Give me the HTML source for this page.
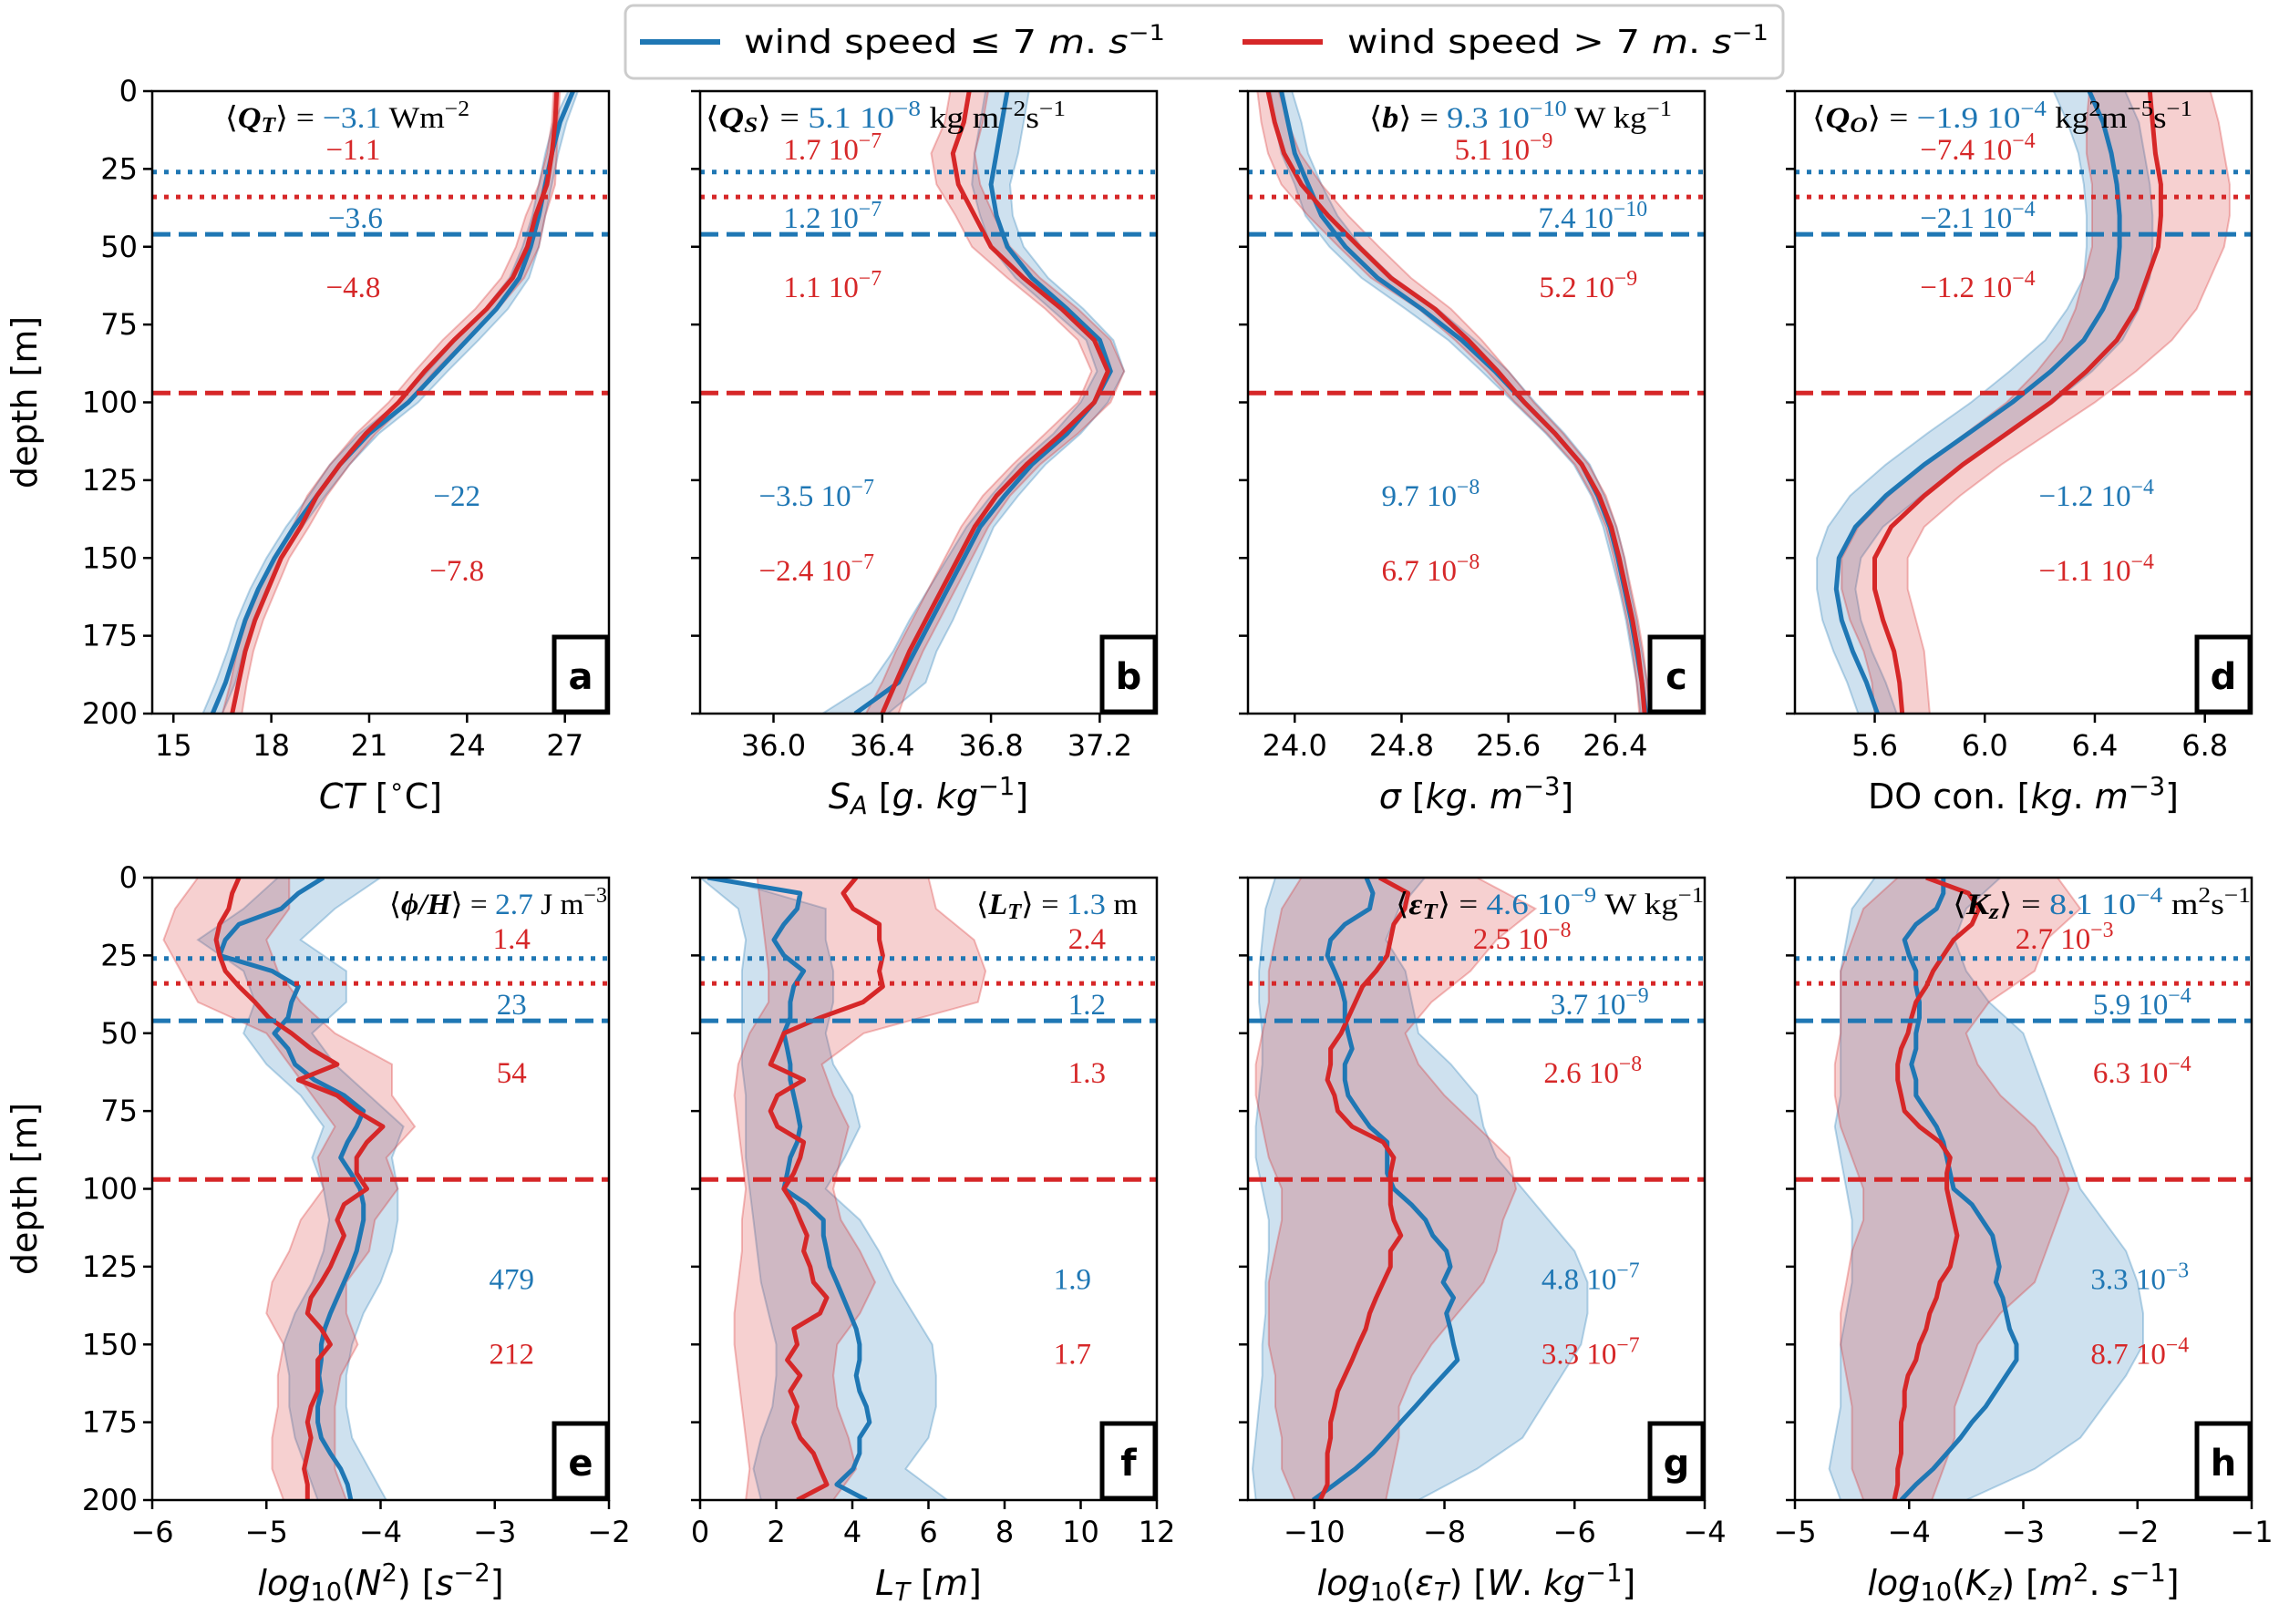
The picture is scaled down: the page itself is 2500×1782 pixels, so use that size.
<!DOCTYPE html>
<html>
<head>
<meta charset="utf-8">
<style>
html,body{margin:0;padding:0;background:#fff;}
svg{display:block;}
.tick{font-family:"DejaVu Sans","Liberation Sans",sans-serif;font-size:32px;fill:#000;}
.axl{font-family:"DejaVu Sans","Liberation Sans",sans-serif;font-size:38px;fill:#000;}
.ann{font-family:"Liberation Serif","DejaVu Serif",serif;font-size:33px;}
.leg{font-family:"DejaVu Sans","Liberation Sans",sans-serif;font-size:36px;fill:#000;}
</style>
</head>
<body>
<svg id="fig" width="2500" height="1782" viewBox="0 0 2500 1782" xmlns="http://www.w3.org/2000/svg">
  <g>
    <rect x="686" y="6" width="1270" height="80" rx="9" fill="#fff" stroke="#cccccc" stroke-width="3"/>
    <line x1="702" y1="46" x2="790" y2="46" stroke="#1f77b4" stroke-width="6"/>
    <text class="leg" x="816" y="58" textLength="462" lengthAdjust="spacingAndGlyphs">wind speed ≤ 7 <tspan font-style="italic">m</tspan>. <tspan font-style="italic">s</tspan><tspan baseline-shift="super" font-size="24">−1</tspan></text>
    <line x1="1363" y1="46" x2="1451" y2="46" stroke="#d62728" stroke-width="6"/>
    <text class="leg" x="1478" y="58" textLength="462" lengthAdjust="spacingAndGlyphs">wind speed &gt; 7 <tspan font-style="italic">m</tspan>. <tspan font-style="italic">s</tspan><tspan baseline-shift="super" font-size="24">−1</tspan></text>
  </g>
</svg>
<script>
// ---------- data ----------
const depth10 = [0,10,20,30,40,50,60,70,80,90,100,110,120,130,140,150,160,170,180,190,200];
const depth5 = [0,5,10,15,20,25,30,35,40,45,50,55,60,65,70,75,80,85,90,95,100,105,110,115,120,125,130,135,140,145,150,155,160,165,170,175,180,185,190,195,200];
const mldDepths = [26, 34, 46, 97]; // blue dotted, red dotted, blue dashed, red dashed

// a: CT
const ctBlue = [27.25,26.85,26.6,26.4,26.2,25.95,25.6,24.9,24.0,23.1,22.2,21.0,20.1,19.4,18.7,18.1,17.6,17.2,16.9,16.6,16.2];
const ctRed = [26.75,26.7,26.6,26.45,26.1,25.85,25.4,24.6,23.6,22.7,21.9,20.9,20.1,19.4,18.9,18.3,17.9,17.5,17.2,17.0,16.8];
const ctBlueSpread = [0.15,0.2,0.2,0.2,0.2,0.25,0.3,0.35,0.35,0.3,0.3,0.3,0.3,0.25,0.25,0.25,0.25,0.25,0.25,0.3,0.3];
const ctRedSpread = [0.1,0.1,0.15,0.25,0.3,0.35,0.35,0.35,0.35,0.3,0.3,0.3,0.3,0.3,0.25,0.25,0.25,0.25,0.25,0.25,0.3];
// b: SA
const saBlue = [36.86,36.84,36.82,36.8,36.82,36.86,36.95,37.08,37.2,37.24,37.18,37.08,36.95,36.85,36.76,36.7,36.64,36.58,36.52,36.46,36.3];
const saRed = [36.72,36.7,36.66,36.68,36.74,36.8,36.92,37.06,37.18,37.23,37.18,37.06,36.93,36.82,36.74,36.68,36.62,36.56,36.5,36.45,36.4];
const saBlueSpread = [0.08,0.08,0.08,0.07,0.06,0.06,0.06,0.06,0.05,0.05,0.05,0.05,0.05,0.05,0.05,0.06,0.07,0.08,0.08,0.1,0.12];
const saRedSpread = [0.07,0.07,0.08,0.08,0.07,0.07,0.06,0.06,0.06,0.06,0.06,0.06,0.05,0.05,0.05,0.05,0.05,0.05,0.05,0.05,0.06];
// c: sigma
const sigBlue = [23.9,23.95,24.0,24.1,24.2,24.38,24.62,24.95,25.25,25.5,25.72,25.95,26.15,26.27,26.36,26.42,26.47,26.52,26.56,26.6,26.63];
const sigRed = [23.8,23.85,23.92,24.05,24.25,24.48,24.72,25.05,25.3,25.52,25.72,25.95,26.15,26.28,26.37,26.43,26.48,26.53,26.57,26.6,26.62];
const sigBlueSpread = [0.08,0.1,0.1,0.1,0.12,0.12,0.12,0.12,0.1,0.1,0.08,0.07,0.06,0.05,0.05,0.05,0.04,0.04,0.04,0.04,0.04];
const sigRedSpread = [0.08,0.1,0.12,0.15,0.15,0.15,0.15,0.12,0.1,0.08,0.07,0.06,0.05,0.05,0.04,0.04,0.04,0.04,0.04,0.04,0.04];
// d: DO
const doBlue = [6.38,6.43,6.46,6.48,6.49,6.49,6.48,6.43,6.36,6.24,6.1,5.94,5.78,5.64,5.53,5.47,5.46,5.48,5.52,5.57,5.61];
const doRed = [6.6,6.61,6.62,6.64,6.64,6.63,6.59,6.55,6.48,6.37,6.24,6.08,5.92,5.78,5.66,5.6,5.6,5.63,5.67,5.69,5.7];
const doBlueSpread = [0.13,0.13,0.12,0.12,0.12,0.12,0.12,0.13,0.14,0.15,0.15,0.15,0.14,0.13,0.1,0.08,0.07,0.07,0.07,0.07,0.07];
const doRedSpread = [0.22,0.24,0.25,0.25,0.25,0.24,0.23,0.22,0.2,0.18,0.16,0.15,0.14,0.13,0.12,0.12,0.12,0.12,0.11,0.1,0.1];
// e: log10 N2
const n2Blue = [-4.5,-4.72,-4.87,-5.24,-5.36,-5.41,-4.95,-4.72,-4.78,-4.81,-4.93,-4.81,-4.75,-4.58,-4.32,-4.15,-4.21,-4.29,-4.35,-4.26,-4.18,-4.15,-4.15,-4.18,-4.21,-4.26,-4.32,-4.38,-4.44,-4.49,-4.52,-4.52,-4.54,-4.52,-4.55,-4.55,-4.52,-4.44,-4.35,-4.29,-4.26];
const n2Red = [-5.24,-5.3,-5.33,-5.41,-5.44,-5.41,-5.36,-5.24,-5.1,-4.98,-4.78,-4.61,-4.38,-4.72,-4.38,-4.21,-3.98,-4.12,-4.21,-4.21,-4.12,-4.32,-4.38,-4.32,-4.38,-4.44,-4.52,-4.61,-4.64,-4.52,-4.44,-4.55,-4.55,-4.55,-4.61,-4.64,-4.61,-4.64,-4.67,-4.64,-4.64];
const n2BlueLo = [-4.9,-5.2,-5.6,-5.2,-5.1,-5.2,-5.0,-4.7,-4.5,-4.6,-4.5,-4.45,-4.5,-4.6,-4.75,-4.85,-4.8,-4.8,-4.75,-4.65,-4.55];
const n2BlueHi = [-4.0,-4.4,-4.7,-4.3,-4.3,-4.6,-4.4,-4.1,-3.8,-3.9,-3.85,-3.85,-3.9,-4.0,-4.15,-4.25,-4.3,-4.3,-4.25,-4.1,-3.95];
const n2RedLo = [-5.6,-5.8,-5.9,-5.75,-5.6,-5.0,-4.8,-4.6,-4.4,-4.55,-4.5,-4.7,-4.8,-4.95,-5.0,-4.85,-4.9,-4.9,-4.95,-4.95,-4.85];
const n2RedHi = [-4.8,-4.8,-5.0,-4.9,-4.7,-4.4,-3.9,-3.9,-3.7,-3.95,-3.85,-4.05,-4.1,-4.3,-4.3,-4.2,-4.35,-4.4,-4.4,-4.4,-4.3];
// f: LT
const ltBlue = [0.2,2.63,2.55,2.2,1.94,2.2,2.72,2.46,2.37,2.37,2.2,2.29,2.37,2.37,2.46,2.55,2.63,2.55,2.37,2.29,2.2,2.81,3.24,3.24,3.33,3.41,3.59,3.76,3.93,4.1,4.19,4.19,4.1,4.19,4.37,4.45,4.19,4.19,4.02,3.59,4.37];
const ltRed = [4.1,3.76,4.02,4.71,4.71,4.8,4.71,4.8,4.28,3.15,2.2,2.03,1.85,2.72,2.03,1.85,2.03,2.72,2.63,2.46,2.2,2.46,2.63,2.81,2.72,2.89,2.98,3.33,3.15,2.46,2.55,2.29,2.63,2.37,2.55,2.46,2.63,2.98,3.15,3.33,2.55];
const ltBlueLo = [0,1.0,1.2,1.1,1.1,1.1,1.1,1.2,1.2,1.2,1.3,1.4,1.5,1.6,1.8,2.0,2.0,1.9,1.6,1.4,1.6];
const ltBlueHi = [0.5,3.3,3.3,3.5,3.5,3.3,3.5,4.0,4.2,3.8,3.3,4.2,4.7,5.1,5.6,6.1,6.2,6.2,6.0,5.4,6.5];
const ltRedLo = [1.5,1.6,1.7,1.8,1.8,1.3,1.0,0.9,1.0,1.1,1.2,1.1,1.1,1.0,0.9,0.9,1.0,1.1,1.2,1.3,1.2];
const ltRedHi = [6.0,6.2,7.2,7.5,7.3,4.3,3.2,3.5,3.9,3.7,3.5,3.7,4.2,4.6,4.2,3.6,3.5,3.6,3.9,4.1,3.5];
// g: log10 eps
const epsBlue = [-9.2,-9.1,-9.15,-9.53,-9.75,-9.8,-9.69,-9.59,-9.53,-9.53,-9.48,-9.42,-9.53,-9.53,-9.48,-9.32,-9.15,-8.88,-8.88,-8.88,-8.78,-8.51,-8.29,-8.18,-7.97,-7.91,-8.02,-7.86,-7.97,-7.91,-7.86,-7.8,-8.02,-8.24,-8.45,-8.67,-8.88,-9.1,-9.37,-9.69,-10.02];
const epsRed = [-9.0,-8.56,-8.61,-8.78,-8.83,-8.88,-9.05,-9.26,-9.37,-9.48,-9.59,-9.75,-9.75,-9.8,-9.69,-9.64,-9.42,-8.94,-8.78,-8.83,-8.83,-8.83,-8.78,-8.67,-8.83,-8.83,-8.94,-9.05,-9.15,-9.21,-9.32,-9.42,-9.53,-9.64,-9.69,-9.75,-9.75,-9.8,-9.8,-9.8,-9.91];
const epsBlueLo = [-10.6,-10.75,-10.8,-10.85,-10.85,-10.8,-10.8,-10.85,-10.9,-10.9,-10.8,-10.7,-10.7,-10.75,-10.75,-10.8,-10.8,-10.85,-10.9,-10.95,-10.9];
const epsBlueHi = [-8.3,-8.7,-8.9,-8.6,-8.5,-8.4,-7.9,-7.5,-7.4,-7.2,-6.8,-6.4,-6.0,-5.8,-5.8,-5.9,-6.2,-6.5,-6.8,-7.5,-8.4];
const epsRedLo = [-10.2,-10.5,-10.6,-10.7,-10.7,-10.8,-10.9,-10.9,-10.8,-10.7,-10.5,-10.5,-10.6,-10.7,-10.7,-10.7,-10.6,-10.6,-10.5,-10.5,-10.3];
const epsRedHi = [-7.5,-6.6,-7.2,-7.6,-8.2,-8.6,-8.4,-8.0,-7.5,-7.0,-6.9,-7.1,-7.2,-7.4,-7.8,-8.2,-8.5,-8.7,-8.7,-8.8,-8.9];
// h: log10 Kz
const kzBlue = [-3.7,-3.7,-3.76,-3.94,-4.04,-4.0,-3.94,-3.94,-3.91,-3.91,-3.94,-3.94,-3.98,-3.94,-3.94,-3.85,-3.76,-3.7,-3.67,-3.64,-3.61,-3.45,-3.36,-3.27,-3.24,-3.21,-3.24,-3.18,-3.15,-3.12,-3.06,-3.06,-3.15,-3.24,-3.33,-3.45,-3.55,-3.67,-3.79,-3.94,-4.07];
const kzRed = [-3.85,-3.48,-3.39,-3.45,-3.61,-3.7,-3.79,-3.85,-3.94,-3.98,-4.01,-4.07,-4.1,-4.1,-4.07,-4.04,-3.91,-3.73,-3.64,-3.67,-3.67,-3.64,-3.61,-3.58,-3.61,-3.64,-3.73,-3.76,-3.82,-3.85,-3.91,-3.94,-4.01,-4.04,-4.04,-4.07,-4.07,-4.07,-4.1,-4.1,-4.13];
const kzBlueLo = [-4.3,-4.5,-4.55,-4.6,-4.6,-4.6,-4.6,-4.6,-4.65,-4.6,-4.55,-4.5,-4.5,-4.5,-4.55,-4.6,-4.6,-4.6,-4.65,-4.7,-4.6];
const kzBlueHi = [-3.2,-3.5,-3.6,-3.5,-3.3,-3.0,-2.9,-2.8,-2.7,-2.6,-2.5,-2.3,-2.1,-2.0,-1.95,-1.95,-2.1,-2.3,-2.5,-2.9,-3.5];
const kzRedLo = [-4.1,-4.4,-4.5,-4.6,-4.6,-4.6,-4.65,-4.65,-4.6,-4.5,-4.4,-4.4,-4.5,-4.55,-4.6,-4.6,-4.55,-4.5,-4.5,-4.5,-4.4];
const kzRedHi = [-2.7,-2.5,-2.8,-2.9,-3.3,-3.5,-3.4,-3.2,-2.9,-2.7,-2.6,-2.7,-2.8,-2.9,-3.2,-3.4,-3.5,-3.6,-3.6,-3.7,-3.8];

// tick labels
const ticksA = [15,18,21,24,27];
const ticksB = [36.0,36.4,36.8,37.2];
const ticksC = [24.0,24.8,25.6,26.4];
const ticksD = [5.6,6.0,6.4,6.8];
const ticksE = [-6,-5,-4,-3,-2];
const ticksF = [0,2,4,6,8,10,12];
const ticksG = [-10,-8,-6,-4];
const ticksH = [-5,-4,-3,-2,-1];
const depthTicks = [0,25,50,75,100,125,150,175,200];

// ---------- drawing ----------
const NS = 'http://www.w3.org/2000/svg';
const svg = document.getElementById('fig');
const BLUE = '#1f77b4', RED = '#d62728';
const COLX = [167, 768, 1369, 1969];
const ROWY = [100, 963];
const W = 501, H = 683;

function el(tag, attrs, parent) {
  const e = document.createElementNS(NS, tag);
  for (const k in attrs) e.setAttribute(k, attrs[k]);
  if (parent) parent.appendChild(e);
  return e;
}
function sup(s){ return '<tspan baseline-shift="super" font-size="72%">' + s + '</tspan>'; }
function sub(s){ return '<tspan baseline-shift="-0.22em" font-size="72%">' + s + '</tspan>'; }
function fmtNum(v, dec){ return (v < 0 ? '\u2212' : '') + Math.abs(v).toFixed(dec); }

const panels = [
  {id:'a', col:0,row:0, xmin:14.35, xmax:28.35, ticks:ticksA, dec:0, mean:[ctBlue,ctRed], spread:[ctBlueSpread,ctRedSpread], d:depth10,
   xlabel:'<tspan font-style="italic">CT</tspan> [' + sup('\u2218') + 'C]',
   title:{x:247, len:268, html:'\u27E8<tspan font-weight="bold" font-style="italic">Q</tspan>' + sub('<tspan font-weight="bold" font-style="italic">T</tspan>') + '\u27E9 = <tspan fill="'+BLUE+'">\u22123.1</tspan> Wm' + sup('\u22122')},
   ann:[[0.44,18.7,'r','\u22121.1'],[0.445,40.7,'b','\u22123.6'],[0.44,63,'r','\u22124.8'],[0.667,130,'b','\u221222'],[0.667,154,'r','\u22127.8']]},
  {id:'b', col:1,row:0, xmin:35.73, xmax:37.41, ticks:ticksB, dec:1, mean:[saBlue,saRed], spread:[saBlueSpread,saRedSpread], d:depth10,
   xlabel:'<tspan font-style="italic">S</tspan>' + sub('<tspan font-style="italic">A</tspan>') + ' [<tspan font-style="italic">g</tspan>. <tspan font-style="italic">kg</tspan>' + sup('\u22121') + ']',
   title:{x:774, len:395, html:'\u27E8<tspan font-weight="bold" font-style="italic">Q</tspan>' + sub('<tspan font-weight="bold" font-style="italic">S</tspan>') + '\u27E9 = <tspan fill="'+BLUE+'">5.1 10' + sup('\u22128') + '</tspan> kg m' + sup('\u22122') + 's' + sup('\u22121')},
   ann:[[0.29,18.7,'r','1.7 10'+sup('\u22127')],[0.29,40.7,'b','1.2 10'+sup('\u22127')],[0.29,63,'r','1.1 10'+sup('\u22127')],[0.255,130,'b','\u22123.5 10'+sup('\u22127')],[0.255,154,'r','\u22122.4 10'+sup('\u22127')]]},
  {id:'c', col:2,row:0, xmin:23.65, xmax:27.07, ticks:ticksC, dec:1, mean:[sigBlue,sigRed], spread:[sigBlueSpread,sigRedSpread], d:depth10,
   xlabel:'<tspan font-style="italic">\u03C3</tspan> [<tspan font-style="italic">kg</tspan>. <tspan font-style="italic">m</tspan>' + sup('\u22123') + ']',
   title:{x:1502, len:332, html:'\u27E8<tspan font-weight="bold" font-style="italic">b</tspan>\u27E9 = <tspan fill="'+BLUE+'">9.3 10' + sup('\u221210') + '</tspan> W kg' + sup('\u22121')},
   ann:[[0.56,18.7,'r','5.1 10'+sup('\u22129')],[0.755,40.7,'b','7.4 10'+sup('\u221210')],[0.745,63,'r','5.2 10'+sup('\u22129')],[0.4,130,'b','9.7 10'+sup('\u22128')],[0.4,154,'r','6.7 10'+sup('\u22128')]]},
  {id:'d', col:3,row:0, xmin:5.31, xmax:6.97, ticks:ticksD, dec:1, mean:[doBlue,doRed], spread:[doBlueSpread,doRedSpread], d:depth10,
   xlabel:'DO con. [<tspan font-style="italic">kg</tspan>. <tspan font-style="italic">m</tspan>' + sup('\u22123') + ']',
   title:{x:1988, len:417, html:'\u27E8<tspan font-weight="bold" font-style="italic">Q</tspan>' + sub('<tspan font-weight="bold" font-style="italic">O</tspan>') + '\u27E9 = <tspan fill="'+BLUE+'">\u22121.9 10' + sup('\u22124') + '</tspan> kg' + sup('2') + 'm' + sup('\u22125') + 's' + sup('\u22121')},
   ann:[[0.40,18.7,'r','\u22127.4 10'+sup('\u22124')],[0.40,40.7,'b','\u22122.1 10'+sup('\u22124')],[0.40,63,'r','\u22121.2 10'+sup('\u22124')],[0.66,130,'b','\u22121.2 10'+sup('\u22124')],[0.66,154,'r','\u22121.1 10'+sup('\u22124')]]},
  {id:'e', col:0,row:1, xmin:-6, xmax:-2, ticks:ticksE, dec:0, mean:[n2Blue,n2Red], lo:[n2BlueLo,n2RedLo], hi:[n2BlueHi,n2RedHi], d:depth5,
   xlabel:'<tspan font-style="italic">log</tspan>' + sub('10') + '(<tspan font-style="italic">N</tspan>' + sup('2') + ') [<tspan font-style="italic">s</tspan>' + sup('\u22122') + ']',
   title:{x:427, len:239, html:'\u27E8<tspan font-weight="bold" font-style="italic">\u03D5/H</tspan>\u27E9 = <tspan fill="'+BLUE+'">2.7</tspan> J m' + sup('\u22123')},
   ann:[[0.787,19.6,'r','1.4'],[0.787,40.7,'b','23'],[0.787,62.6,'r','54'],[0.787,129,'b','479'],[0.787,153,'r','212']]},
  {id:'f', col:1,row:1, xmin:0, xmax:12, ticks:ticksF, dec:0, mean:[ltBlue,ltRed], lo:[ltBlueLo,ltRedLo], hi:[ltBlueHi,ltRedHi], d:depth5,
   xlabel:'<tspan font-style="italic">L</tspan>' + sub('<tspan font-style="italic">T</tspan>') + ' [<tspan font-style="italic">m</tspan>]',
   title:{x:1071, len:177, html:'\u27E8<tspan font-weight="bold" font-style="italic">L</tspan>' + sub('<tspan font-weight="bold" font-style="italic">T</tspan>') + '\u27E9 = <tspan fill="'+BLUE+'">1.3</tspan> m'},
   ann:[[0.847,19.6,'r','2.4'],[0.847,40.7,'b','1.2'],[0.847,62.6,'r','1.3'],[0.815,129,'b','1.9'],[0.815,153,'r','1.7']]},
  {id:'g', col:2,row:1, xmin:-11.02, xmax:-4, ticks:ticksG, dec:0, mean:[epsBlue,epsRed], lo:[epsBlueLo,epsRedLo], hi:[epsBlueHi,epsRedHi], d:depth5,
   xlabel:'<tspan font-style="italic">log</tspan>' + sub('10') + '(<tspan font-style="italic">\u03B5</tspan>' + sub('<tspan font-style="italic">T</tspan>') + ') [<tspan font-style="italic">W</tspan>. <tspan font-style="italic">kg</tspan>' + sup('\u22121') + ']',
   title:{x:1531, len:338, html:'\u27E8<tspan font-weight="bold" font-style="italic">\u03B5</tspan>' + sub('<tspan font-weight="bold" font-style="italic">T</tspan>') + '\u27E9 =  <tspan fill="'+BLUE+'">4.6 10' + sup('\u22129') + '</tspan> W kg' + sup('\u22121')},
   ann:[[0.6,19.6,'r','2.5 10'+sup('\u22128')],[0.77,40.7,'b','3.7 10'+sup('\u22129')],[0.755,62.6,'r','2.6 10'+sup('\u22128')],[0.75,129,'b','4.8 10'+sup('\u22127')],[0.75,153,'r','3.3 10'+sup('\u22127')]]},
  {id:'h', col:3,row:1, xmin:-5, xmax:-1, ticks:ticksH, dec:0, mean:[kzBlue,kzRed], lo:[kzBlueLo,kzRedLo], hi:[kzBlueHi,kzRedHi], d:depth5,
   xlabel:'<tspan font-style="italic">log</tspan>' + sub('10') + '(<tspan font-style="italic">K</tspan>' + sub('<tspan font-style="italic">z</tspan>') + ') [<tspan font-style="italic">m</tspan>' + sup('2') + '. <tspan font-style="italic">s</tspan>' + sup('\u22121') + ']',
   title:{x:2142, len:327, html:'\u27E8<tspan font-weight="bold" font-style="italic">K</tspan>' + sub('<tspan font-weight="bold" font-style="italic">z</tspan>') + '\u27E9 =  <tspan fill="'+BLUE+'">8.1 10' + sup('\u22124') + '</tspan> m' + sup('2') + 's' + sup('\u22121')},
   ann:[[0.59,19.6,'r','2.7 10'+sup('\u22123')],[0.76,40.7,'b','5.9 10'+sup('\u22124')],[0.76,62.6,'r','6.3 10'+sup('\u22124')],[0.755,129,'b','3.3 10'+sup('\u22123')],[0.755,153,'r','8.7 10'+sup('\u22124')]]}
];

const defs = el('defs', {}, svg);

panels.forEach(p => {
  const x0 = COLX[p.col], y0 = ROWY[p.row];
  const X = v => x0 + (v - p.xmin) / (p.xmax - p.xmin) * W;
  const Y = d => y0 + d / 200 * H;
  const g = el('g', {}, svg);
  
  

  const cp = el('clipPath', {id: 'clip-' + p.id}, defs);
  el('rect', {x: x0, y: y0, width: W, height: H}, cp);
  const plot = el('g', {'clip-path': 'url(#clip-' + p.id + ')'}, g);
  
  

  const cols = [BLUE, RED], names = ['low-wind', 'high-wind'];
  for (let s = 0; s < 2; s++) {
    let lo, hi, dd;
    if (p.spread) {
      dd = p.d;
      lo = p.mean[s].map((m, i) => m - p.spread[s][i]);
      hi = p.mean[s].map((m, i) => m + p.spread[s][i]);
    } else {
      dd = depth10; lo = p.lo[s]; hi = p.hi[s];
    }
    const pts = [];
    for (let i = 0; i < dd.length; i++) pts.push(X(lo[i]).toFixed(1) + ',' + Y(dd[i]).toFixed(1));
    for (let i = dd.length - 1; i >= 0; i--) pts.push(X(hi[i]).toFixed(1) + ',' + Y(dd[i]).toFixed(1));
    const band = el('polygon', {points: pts.join(' '), fill: cols[s], 'fill-opacity': 0.22, stroke: cols[s], 'stroke-opacity': 0.3, 'stroke-width': 2}, plot);
    
    
  }
  for (let s = 0; s < 2; s++) {
    const pts = p.mean[s].map((v, i) => X(v).toFixed(1) + ',' + Y(p.d[i]).toFixed(1)).join(' ');
    const ln = el('polyline', {points: pts, fill: 'none', stroke: cols[s], 'stroke-width': 5, 'stroke-linejoin': 'round'}, plot);
    
    
  }
  const hlStyle = [[BLUE, '5 8'], [RED, '5 8'], [BLUE, '20 9'], [RED, '20 9']];
  const hlNames = ['blue-dotted', 'red-dotted', 'blue-dashed', 'red-dashed'];
  mldDepths.forEach((d, i) => {
    const hl = el('line', {x1: x0, x2: x0 + W, y1: Y(d), y2: Y(d), stroke: hlStyle[i][0], 'stroke-width': 5, 'stroke-dasharray': hlStyle[i][1]}, plot);
    
    
  });

  const fr = el('rect', {x: x0, y: y0, width: W, height: H, fill: 'none', stroke: '#000', 'stroke-width': 2.5}, g);
  
  

  const yax = el('g', {}, g);
  
  
  depthTicks.forEach(d => {
    el('line', {x1: x0 - 10, x2: x0, y1: Y(d), y2: Y(d), stroke: '#000', 'stroke-width': 2.5}, yax);
    if (p.col === 0) {
      const t = el('text', {x: x0 - 16, y: Y(d) + 11, 'text-anchor': 'end', class: 'tick'}, yax);
      t.textContent = d;
      
      
    }
  });
  if (p.col === 0) {
    const yl = el('text', {x: 0, y: 0, 'text-anchor': 'middle', class: 'axl', transform: 'translate(40,' + (y0 + H / 2) + ') rotate(-90)'}, g);
    yl.textContent = 'depth [m]';
    
    
  }
  const xax = el('g', {}, g);
  
  
  p.ticks.forEach(v => {
    el('line', {x1: X(v), x2: X(v), y1: y0 + H, y2: y0 + H + 10, stroke: '#000', 'stroke-width': 2.5}, xax);
    const t = el('text', {x: X(v), y: y0 + H + 46, 'text-anchor': 'middle', class: 'tick'}, xax);
    t.textContent = fmtNum(v, p.dec);
    
    
  });
  const xl = el('text', {x: x0 + W / 2, y: y0 + H + 104, 'text-anchor': 'middle', class: 'axl'}, g);
  xl.innerHTML = p.xlabel;
  
  

  const tt = el('text', {x: p.title.x, y: y0 + 40, class: 'ann', fill: '#000', textLength: p.title.len, lengthAdjust: 'spacingAndGlyphs'}, g);
  tt.innerHTML = p.title.html;
  
  
  p.ann.forEach(a => {
    const t = el('text', {x: x0 + a[0] * W, y: Y(a[1]) + 11, 'text-anchor': 'middle', class: 'ann', fill: a[2] === 'b' ? BLUE : RED}, g);
    t.innerHTML = a[3];
    
    
  });

  const lb = el('g', {}, g);
  
  
  el('rect', {x: x0 + W - 60, y: y0 + H - 84, width: 58, height: 82, fill: '#fff', stroke: '#000', 'stroke-width': 5}, lb);
  const lt = el('text', {x: x0 + W - 31, y: y0 + H - 27, 'text-anchor': 'middle', 'font-family': '"DejaVu Sans","Liberation Sans",sans-serif', 'font-weight': 'bold', 'font-size': 40}, lb);
  lt.textContent = p.id;
});
</script>
</body>
</html>
